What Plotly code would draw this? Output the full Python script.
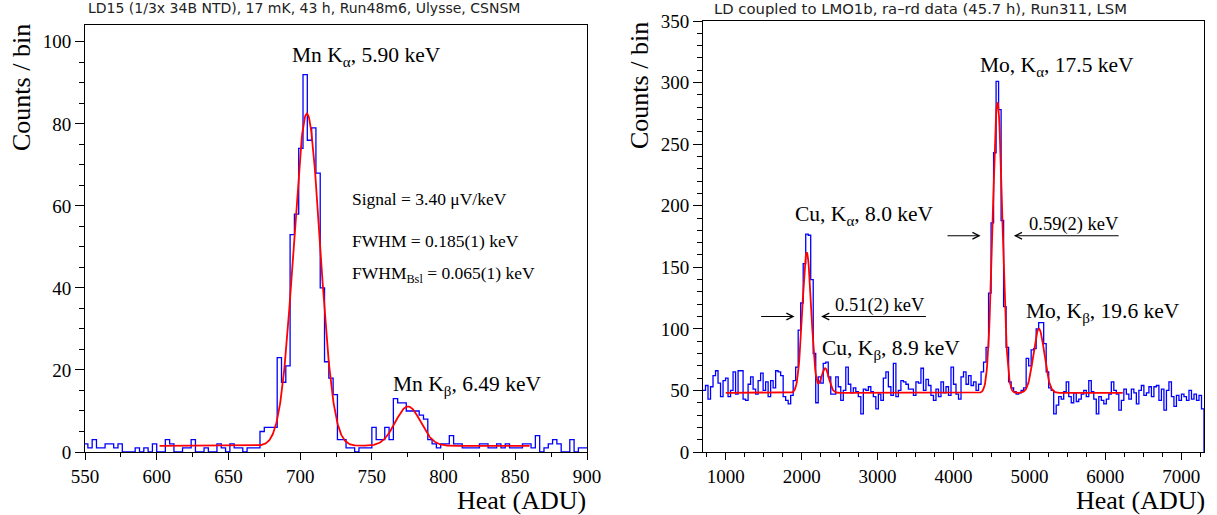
import numpy as np
import plotly.graph_objects as go

# ---------------- Left detector: Mn X-ray lines (55Fe) ----------------
mn_bin_start = 549.0
mn_bin_width = 3.0
mn_counts = [2, 1, 3, 1, 1, 2, 2, 1, 2, 0, 0, 0, 1, 0, 1, 0, 2, 0, 0, 3,
             2, 0, 0, 1, 1, 3, 0, 0, 1, 0, 0, 2, 1, 0, 2, 1, 1, 0, 1, 1,
             1, 5, 6, 6, 6, 23, 17, 21, 53, 58, 74, 92, 76, 79, 68, 40, 22, 18, 14, 3,
             3, 1, 1, 0, 1, 1, 1, 6, 3, 3, 6, 3, 13, 12, 12, 10, 10, 10, 9, 8,
             3, 2, 1, 2, 2, 4, 2, 2, 1, 1, 1, 1, 2, 2, 1, 1, 2, 1, 2, 1,
             1, 1, 2, 2, 1, 4, 0, 1, 2, 3, 2, 0, 0, 3, 0, 1, 1]
# fit: flat background + two gaussians (amplitude, mean, sigma)
mn_fit_bkg = 1.5
mn_fit_peaks = [(81.0, 704.7, 9.2), (9.6, 775.2, 8.8)]
mn_fit_range = (602.0, 860.0)

# ---------------- Right detector: Cu / Mo X-ray lines ----------------
lmo_bin_start = 700.0
lmo_bin_width = 33.0
lmo_counts = [
    50, 54, 43, 53, 62, 66, 56, 45, 58, 60, 45, 50, 65, 47, 66, 66, 43, 42, 55, 61,
    51, 47, 58, 64, 50, 57, 45, 58, 52, 66, 65, 62, 45, 42, 39, 46,
    58, 69, 99, 121, 153, 177, 176, 140, 80, 40, 61, 56, 72, 73, 61, 47, 47, 61, 53,
    42, 50, 69, 55, 48, 52,
    49, 45, 31, 51, 50, 53, 49, 45, 35, 47, 42, 60, 65, 53, 46, 72, 45, 50, 58, 57,
    55, 51, 51, 46, 57, 56, 68, 50, 59, 54, 46, 42, 51, 45, 57, 48, 53, 46, 69, 55,
    47, 43, 61, 65, 55, 62, 54, 57, 50, 55, 65,
    73, 85, 129, 186, 243, 301, 278, 188, 118, 85,
    57, 52, 49, 47, 48, 50,
    52, 76, 70, 83, 84, 100, 105, 105, 88, 65, 52, 50, 31,
    38, 45, 43, 49, 57, 45, 40, 48, 41, 43, 47, 50, 45, 58, 49, 43, 31, 45, 42, 39,
    43, 47, 57, 50, 47, 34, 42, 51, 47, 43, 51, 48, 39, 50, 54, 46, 48, 53, 45, 53,
    54, 42, 51, 34, 50, 57, 45, 37, 46, 42, 47, 45, 42, 50, 43, 47, 42, 46, 35]
lmo_fit_bkg = 48.0
lmo_fit_peaks = [(114.0, 2067.0, 58.0), (20.0, 2309.0, 50.0),
                 (236.0, 4580.0, 63.0), (52.0, 5125.0, 72.0)]
lmo_fit_range = (1000.0, 6230.0)

left_title = "LD15 (1/3x 34B NTD), 17 mK, 43 h, Run48m6, Ulysse, CSNSM"
right_title = "LD coupled to LMO1b, ra\u2013rd data (45.7 h), Run311, LSM"

W, H = 1217, 515
SERIF = "Liberation Serif, Times New Roman, serif"
SANS = "DejaVu Sans, sans-serif"


def step_xy(start, width, counts, drop_at_end=False):
    edges = start + width * np.arange(len(counts) + 1)
    xs = list(edges[:-1]) + [edges[-1]]
    ys = list(counts) + [counts[-1]]
    if drop_at_end:
        xs.append(edges[-1])
        ys.append(0)
    return xs, ys


def fit_curve(bkg, peaks, rng, n=800):
    x = np.linspace(rng[0], rng[1], n)
    y = np.full_like(x, bkg)
    for a, m, s in peaks:
        y += a * np.exp(-0.5 * ((x - m) / s) ** 2)
    return x, y


fig = go.Figure()

hx, hy = step_xy(mn_bin_start, mn_bin_width, mn_counts)
fig.add_trace(go.Scatter(x=hx, y=hy, mode="lines", line=dict(color="#0000ff", width=1.3, shape="hv"),
                         xaxis="x", yaxis="y", hoverinfo="skip"))
fx, fy = fit_curve(mn_fit_bkg, mn_fit_peaks, mn_fit_range)
fig.add_trace(go.Scatter(x=fx, y=fy, mode="lines", line=dict(color="#ff0000", width=1.8),
                         xaxis="x", yaxis="y", hoverinfo="skip"))

hx, hy = step_xy(lmo_bin_start, lmo_bin_width, lmo_counts, drop_at_end=True)
fig.add_trace(go.Scatter(x=hx, y=hy, mode="lines", line=dict(color="#0000ff", width=1.3, shape="hv"),
                         xaxis="x2", yaxis="y2", hoverinfo="skip"))
fx, fy = fit_curve(lmo_fit_bkg, lmo_fit_peaks, lmo_fit_range)
fig.add_trace(go.Scatter(x=fx, y=fy, mode="lines", line=dict(color="#ff0000", width=1.8),
                         xaxis="x2", yaxis="y2", hoverinfo="skip"))


def px(x):
    return x / W


def py(y):
    return 1 - y / H


tickfont = dict(family=SERIF, size=19, color="black")
axis_common = dict(showline=True, mirror=True, linecolor="black", linewidth=1,
                   showgrid=False, zeroline=False, ticks="outside", tickcolor="black",
                   tickfont=tickfont, automargin=False)

fig.update_layout(
    width=W, height=H, margin=dict(l=0, r=0, t=0, b=0, autoexpand=False),
    paper_bgcolor="white", plot_bgcolor="white", showlegend=False,
    xaxis=dict(domain=[px(85), px(587)], range=[550, 900], anchor="y",
               tick0=550, dtick=50, ticklen=7,
               minor=dict(ticks="outside", dtick=25, ticklen=4, tickcolor="black"),
               **axis_common),
    yaxis=dict(domain=[py(452), py(25)], range=[0, 104.1], anchor="x",
               tick0=0, dtick=20, ticklen=9,
               minor=dict(ticks="outside", dtick=5, ticklen=5, tickcolor="black"),
               **axis_common),
    xaxis2=dict(domain=[px(703), px(1204)], range=[700, 7300], anchor="y2",
                tick0=0, dtick=1000, ticklen=7,
                minor=dict(ticks="outside", dtick=250, ticklen=4, tickcolor="black"),
                **axis_common),
    yaxis2=dict(domain=[py(452), py(21)], range=[0, 350], anchor="x2",
                tick0=0, dtick=50, ticklen=9,
                minor=dict(ticks="outside", dtick=10, ticklen=5, tickcolor="black"),
                **axis_common),
)

ann = []
# panel titles
for txt, xc, sz in ((left_title, 304, 14), (right_title, 920, 14.8)):
    ann.append(dict(text=txt, x=px(xc), y=py(8), xref="paper", yref="paper",
                    xanchor="center", yanchor="middle", showarrow=False,
                    font=dict(family=SANS, size=sz, color="#222")))
# axis titles
for xr, yt in ((px(22), py(88)), (px(639), py(86))):
    ann.append(dict(text="Counts / bin", x=xr, y=yt, xref="paper", yref="paper",
                    xanchor="center", yanchor="middle", textangle=-90, showarrow=False,
                    font=dict(family=SERIF, size=26, color="black")))
for xr in (px(588), px(1207)):
    ann.append(dict(text="Heat (ADU)", x=xr, y=py(500), xref="paper", yref="paper",
                    xanchor="right", yanchor="middle", showarrow=False,
                    font=dict(family=SERIF, size=26, color="black")))

big = dict(family=SERIF, size=21.5, color="black")
small = dict(family=SERIF, size=17.5, color="black")
fwhm_font = dict(family=SERIF, size=18.5, color="black")


def label(text, x, y, ref, font, xanchor="center"):
    return dict(text=text, x=x, y=y, xref="x" + ref, yref="y" + ref, xanchor=xanchor,
                yanchor="middle", showarrow=False, font=font)


# left panel labels
ann += [
    label("Mn K<sub>\u03b1</sub>, 5.90 keV", 746, 96.3, "", big),
    label("Signal = 3.40 \u03bcV/keV", 735, 61.7, "", small, "left"),
    label("FWHM = 0.185(1) keV", 735, 51.5, "", small, "left"),
    label("FWHM<sub>Bsl</sub> = 0.065(1) keV", 735, 43.2, "", small, "left"),
    label("Mn K<sub>\u03b2</sub>, 6.49 keV", 816, 16.3, "", big),
]
# right panel labels
ann += [
    label("Mo, K<sub>\u03b1</sub>, 17.5 keV", 5359, 313, "2", big),
    label("Cu, K<sub>\u03b1</sub>, 8.0 keV", 2825, 192, "2", big),
    label("0.59(2) keV", 5582, 185, "2", fwhm_font),
    label("0.51(2) keV", 3035, 119, "2", fwhm_font),
    label("Cu, K<sub>\u03b2</sub>, 8.9 keV", 3180, 83, "2", big),
    label("Mo, K<sub>\u03b2</sub>, 19.6 keV", 5963, 113, "2", big),
]
# FWHM arrows (tail -> head)
arrows = [((3901, 175.6), (4357, 175.6)), ((6195, 175.6), (4794, 175.6)),
          ((1446, 110), (1906, 110)), ((3656, 110), (2256, 110))]
for (tx, ty), (hx_, hy_) in arrows:
    ann.append(dict(x=hx_, y=hy_, ax=tx, ay=ty, xref="x2", yref="y2", axref="x2", ayref="y2",
                    text="", showarrow=True, arrowhead=5, arrowsize=1.2, arrowwidth=1.1,
                    arrowcolor="black", standoff=0))

fig.update_layout(annotations=ann)
fig.write_html("out.html")
